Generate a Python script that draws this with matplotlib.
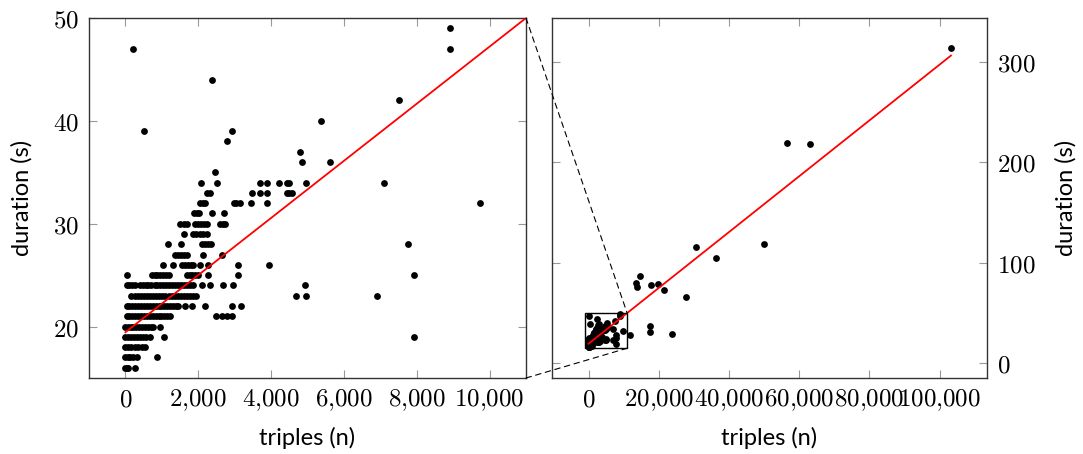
import numpy as np
import matplotlib
matplotlib.use("Agg")
import matplotlib.pyplot as plt
from matplotlib.patches import Rectangle, ConnectionPatch
from matplotlib.ticker import FuncFormatter

plt.rcParams['mathtext.fontset'] = 'cm'

# durations (s) and the triples (n) seen on each duration row
durations = [16, 17, 18, 19, 20, 21, 22, 23, 24, 25, 26, 27, 28, 29, 30,
             31, 32, 33, 34, 35, 36, 37, 38, 39, 40, 42, 44, 47, 49]
triples_rows = [
    [0, 40, 80, 270],
    [0, 60, 120, 200, 330, 860],
    [0, 80, 160, 250, 350, 450, 530],
    [0, 80, 160, 240, 320, 400, 480, 560, 670, 1050, 7917],
    [0, 60, 140, 220, 300, 380, 460, 540, 620, 700, 760, 945],
    [30, 110, 190, 270, 350, 430, 510, 590, 670, 750, 830, 910, 990, 1070,
     1150, 1220, 2500, 2640, 2780, 2920],
    [30, 110, 190, 270, 350, 430, 510, 590, 670, 750, 830, 910, 990, 1070,
     1150, 1230, 1310, 1390, 1450, 1630, 1815, 2180, 2920, 3170],
    [165, 250, 335, 420, 505, 590, 675, 760, 845, 930, 1015, 1100, 1185,
     1270, 1355, 1440, 1525, 1610, 1695, 1780, 1865, 1950, 4690, 4963, 6908],
    [30, 110, 180, 260, 400, 480, 560, 620, 715, 800, 880, 960, 1040, 1120,
     1200, 1280, 1360, 1450, 1540, 1620, 1700, 1780, 1863, 2092, 2322, 2689,
     2964, 4945],
    [55, 730, 800, 880, 960, 1040, 1120, 1200, 1680, 1760, 1840, 1920, 2000,
     2270, 3080, 7935],
    [1035, 1300, 1560, 1640, 1720, 1800, 1860, 2047, 2276, 3102, 3947],
    [1360, 1440, 1520, 1600, 1680, 2140, 2640],
    [1156, 1540, 2100, 2180, 2260, 2340, 7760],
    [1615, 1863, 1950, 2050, 2140, 2230],
    [1510, 1600, 1680, 1910, 1990, 2070, 2150, 2230, 2600, 2670, 2740],
    [1880, 1960, 2030, 2376, 2700],
    [2050, 2120, 2180, 2970, 3050, 3140, 3450, 3900, 9734],
    [2250, 2320, 3470, 3700, 3900, 4430, 4500, 4570],
    [2074, 2505, 3700, 3900, 4204, 4430, 4500, 4966, 7090],
    [2460],
    [4846, 5624],
    [4800],
    [2800],
    [505, 2935],
    [5376],
    [7504],
    [2376],
    [220, 8908],
    [8900],
]

# larger runs, only inside the right-hand view
big_triples = [11750, 13650, 13930, 14600, 17630, 17630, 17730, 19810, 21420,
               23790, 27870, 30710, 36400, 50050, 56400, 63220, 103230]
big_duration = [28, 80, 76, 87, 37, 31, 78, 79, 73, 29, 66, 116, 105, 119,
                219, 218, 314]

# linear fit
fit_intercept = 19.45
fit_slope = 0.002777

xticks_left = [0, 2000, 4000, 6000, 8000, 10000]
yticks_left = [20, 30, 40, 50]
xticks_right = [0, 20000, 40000, 60000, 80000, 100000]
yticks_right = [0, 100, 200, 300]

x = []
y = []
for d, row in zip(durations, triples_rows):
    x += row
    y += [d] * len(row)
x = np.array(x + big_triples, dtype=float)
y = np.array(y + big_duration, dtype=float)

fit_x = np.array([0, x.max()])
fit_y = fit_intercept + fit_slope * fit_x

fmt = FuncFormatter(lambda v, p: '$' + f'{v:,.0f}'.replace(',', '{,}') + '$')

fig = plt.figure(figsize=(10.83, 4.54), dpi=100)
ax1 = fig.add_axes([89 / 1083, 1 - 378 / 454, 437 / 1083, 360 / 454])
ax2 = fig.add_axes([552 / 1083, 1 - 378 / 454, 435 / 1083, 360 / 454])

for ax in (ax1, ax2):
    ax.scatter(x, y, s=24, color='black', linewidths=0, zorder=3)
    ax.plot(fit_x, fit_y, color='red', lw=1.3, zorder=4)
    ax.xaxis.set_major_formatter(fmt)
    ax.yaxis.set_major_formatter(fmt)
    ax.tick_params(direction='in', length=6, width=0.8, color='#999999',
                   labelsize=18, pad=7, top=True, right=True, left=True,
                   bottom=True)
    for s in ax.spines.values():
        s.set_color('#333333')
        s.set_linewidth(1.0)
    ax.set_xlabel('triples (n)', fontsize=17, family='Lato')
    ax.xaxis.label.set_va('center')
    ax.xaxis.set_label_coords(0.5, -0.167)

ax1.set_xlim(-1000, 11000)
ax1.set_ylim(15, 50)
ax1.set_xticks(xticks_left)
ax1.set_yticks(yticks_left)
ax1.set_ylabel('duration (s)', fontsize=17, family='Lato')
ax1.yaxis.label.set_va('center')
ax1.yaxis.set_label_coords(-0.153, 0.5)

ax2.set_xlim(-10400, 113500)
ax2.set_ylim(-14.6, 343.5)
ax2.set_xticks(xticks_right)
ax2.set_yticks(yticks_right)
ax2.tick_params(labelleft=False, labelright=True)
ax2.yaxis.set_label_position('right')
ax2.set_ylabel('duration (s)', fontsize=17, family='Lato')
ax2.yaxis.label.set_va('center')
ax2.yaxis.set_label_coords(1.182, 0.5)

ax2.add_patch(Rectangle((-1000, 15), 12000, 35, fill=False, ec='black',
                        lw=1.0, zorder=5))

for yy in (50, 15):
    con = ConnectionPatch(xyA=(11000, yy), coordsA=ax1.transData,
                          xyB=(11000, yy), coordsB=ax2.transData,
                          linestyle=(0, (5, 4)), color='black', lw=0.8,
                          zorder=6)
    fig.add_artist(con)

fig.savefig('out.png', dpi=100)
